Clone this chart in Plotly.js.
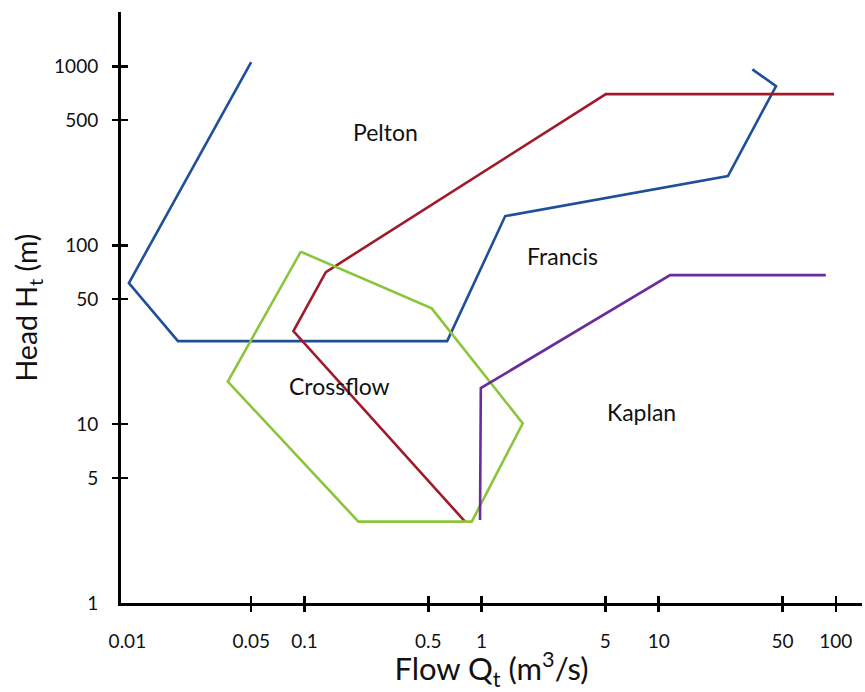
<!DOCTYPE html>
<html>
<head>
<meta charset="utf-8">
<script src="https://cdn.plot.ly/plotly-3.0.1.min.js"></script>
<style>html,body{margin:0;padding:0;background:#fff;}#chart{width:865px;height:692px;}</style>
</head>
<body>
<div id="chart"></div>
<script>
// Blue boundary (Pelton / Francis lower-left envelope)
const blueQ = [0.05, 0.0102, 0.0193, 0.639, 1.36, 24.6, 46.0, 33.8];
const blueH = [1057, 61.5, 29.1, 29.1, 145.6, 243.7, 776, 962];
// Red boundary
const redQ = [97.8, 5.03, 0.132, 0.0866, 0.807];
const redH = [700, 700, 70.8, 33.1, 2.85];
// Green polygon (Crossflow)
const greenQ = [0.0953, 0.523, 1.708, 0.880, 0.2016, 0.0369, 0.0953];
const greenH = [92.0, 44.4, 10.1, 2.85, 2.85, 17.3, 92.0];
// Purple boundary (Kaplan)
const purpleQ = [0.98, 0.99, 11.6, 87.8];
const purpleH = [2.91, 15.9, 68.1, 68.1];

// Region labels
const regionNames = ["Pelton", "Francis", "Crossflow", "Kaplan"];
const regionQ = [0.285, 2.85, 0.157, 7.95];
const regionH = [429, 87, 16.3, 11.7];

// Tick values / labels
const xTickVals = [0.01, 0.05, 0.1, 0.5, 1, 5, 10, 50, 100];
const xTickText = ["0.01", "0.05", "0.1", "0.5", "1", "5", "10", "50", "100"];
const xTickMarks = [0.05, 0.1, 0.5, 1, 5, 10, 50, 100];
const yTickVals = [1, 5, 10, 50, 100, 500, 1000];
const yTickText = ["1", "5", "10", "50", "100", "500", "1000"];
const yTickMarks = [5, 10, 50, 100, 500, 1000];

const FONT = "Lato, 'Open Sans', sans-serif";
const xRange = [-2.036, 2.148];
const yRange = [0, 3.304];

function line(q, h, color) {
  return {x: q, y: h, type: 'scatter', mode: 'lines',
          line: {color: color, width: 2.6}, hoverinfo: 'skip', showlegend: false};
}

const traces = [
  line(blueQ, blueH, '#1f4f99'),
  line(redQ, redH, '#a01a2c'),
  line(greenQ, greenH, '#8cc43c'),
  line(purpleQ, purpleH, '#6a2c9c'),
  {x: [], y: [], xaxis: 'x2', yaxis: 'y2', type: 'scatter', mode: 'lines', showlegend: false},
  {x: [], y: [], xaxis: 'x3', yaxis: 'y3', type: 'scatter', mode: 'lines', showlegend: false}
];

const annotations = regionNames.map((t, i) => ({
  x: Math.log10(regionQ[i]), y: Math.log10(regionH[i]), xref: 'x', yref: 'y',
  text: t, showarrow: false, font: {family: FONT, size: 23, color: '#111'}
}));

function tickAxis(range, vals, dir, overlay, anchor, side) {
  return {
    type: 'log', range: range, overlaying: overlay, anchor: anchor, side: side,
    showgrid: false, zeroline: false, showline: false,
    ticks: dir, ticklen: dir === 'inside' ? 7 : 8, tickwidth: 2.5, tickcolor: '#000',
    tickvals: vals, showticklabels: false, fixedrange: true
  };
}

const layout = {
  width: 865, height: 692,
  margin: {l: 121, r: 3, t: 12, b: 89},
  paper_bgcolor: '#fff', plot_bgcolor: '#fff',
  showlegend: false,
  font: {family: FONT, color: '#111'},
  xaxis: {
    type: 'log', range: xRange, showgrid: false, zeroline: false,
    showline: true, linecolor: '#000', linewidth: 3,
    ticks: '', tickvals: xTickVals, ticktext: xTickText, ticklabelstandoff: 19,
    tickfont: {family: FONT, size: 19, color: '#111'},
    title: {text: 'Flow Q<sub>t</sub> (m<sup>3</sup>/s)', font: {family: FONT, size: 31, color: '#111'}, standoff: 7},
    automargin: false, fixedrange: true
  },
  yaxis: {
    type: 'log', range: yRange, showgrid: false, zeroline: false,
    showline: true, linecolor: '#000', linewidth: 3,
    ticks: '', tickvals: yTickVals, ticktext: yTickText, ticklabelstandoff: 16,
    tickfont: {family: FONT, size: 19, color: '#111'},
    title: {text: 'Head H<sub>t</sub> (m)', font: {family: FONT, size: 28.5, color: '#111'}, standoff: 9},
    automargin: false, fixedrange: true
  },
  xaxis2: tickAxis(xRange, xTickMarks, 'outside', 'x', 'y', 'bottom'),
  yaxis2: tickAxis(yRange, yTickMarks, 'outside', 'y', 'x', 'left'),
  xaxis3: tickAxis(xRange, xTickMarks, 'inside', 'x', 'y', 'bottom'),
  yaxis3: tickAxis(yRange, yTickMarks, 'inside', 'y', 'x', 'left'),
  annotations: annotations
};

Plotly.newPlot('chart', traces, layout, {displayModeBar: false, staticPlot: true});
</script>
</body>
</html>
